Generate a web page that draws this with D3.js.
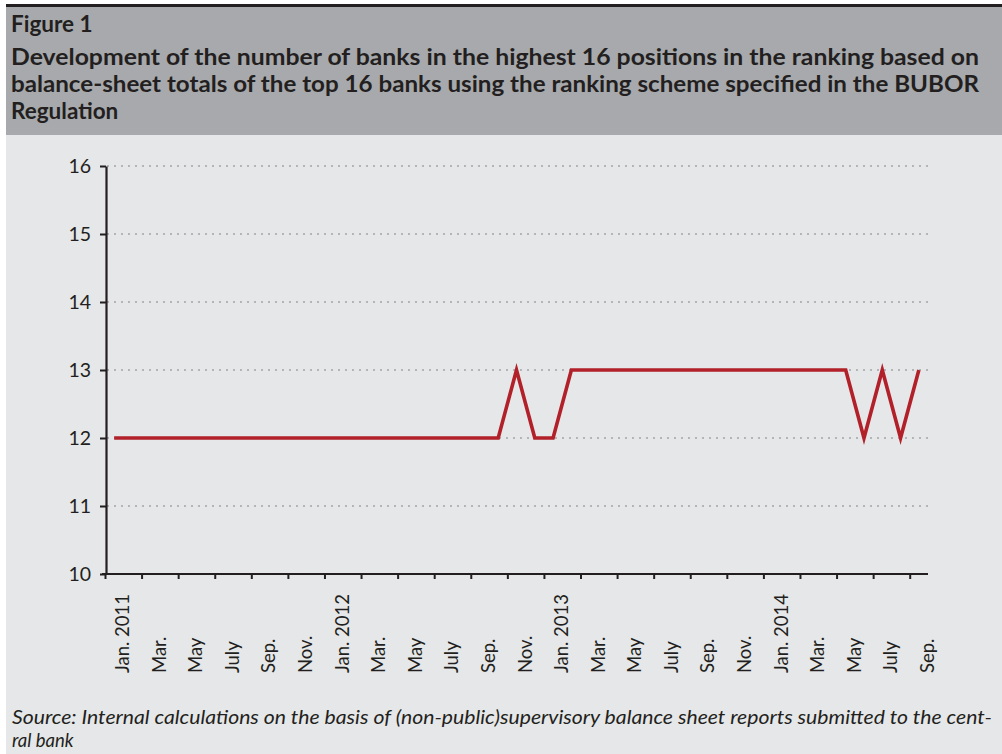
<!DOCTYPE html>
<html>
<head>
<meta charset="utf-8">
<script src="https://cdn.jsdelivr.net/npm/d3@7"></script>
<style>
  html, body { margin: 0; padding: 0; background: #ffffff; }
  svg { display: block; }
  text { font-family: Lato, "Open Sans", sans-serif; fill: #231f20; }
</style>
</head>
<body>
<svg id="chart" width="1002" height="754"></svg>
<script>
// Monthly observations, Jan. 2011 – Sep. 2014
const months = [
  "2011-01","2011-02","2011-03","2011-04","2011-05","2011-06","2011-07","2011-08","2011-09","2011-10","2011-11","2011-12",
  "2012-01","2012-02","2012-03","2012-04","2012-05","2012-06","2012-07","2012-08","2012-09","2012-10","2012-11","2012-12",
  "2013-01","2013-02","2013-03","2013-04","2013-05","2013-06","2013-07","2013-08","2013-09","2013-10","2013-11","2013-12",
  "2014-01","2014-02","2014-03","2014-04","2014-05","2014-06","2014-07","2014-08","2014-09"
];
const banks = [
  12,12,12,12,12,12,12,12,12,12,12,12,
  12,12,12,12,12,12,12,12,12,12,13,12,
  12,13,13,13,13,13,13,13,13,13,13,13,
  13,13,13,13,13,12,13,12,13
];
// One label every second month
const tickLabels = [
  "Jan. 2011","Mar.","May","July","Sep.","Nov.",
  "Jan. 2012","Mar.","May","July","Sep.","Nov.",
  "Jan. 2013","Mar.","May","July","Sep.","Nov.",
  "Jan. 2014","Mar.","May","July","Sep."
];
const yTicks = [10, 11, 12, 13, 14, 15, 16];
const titleLines = [
  "Development of the number of banks in the highest 16 positions in the ranking based on",
  "balance-sheet totals of the top 16 banks using the ranking scheme specified in the BUBOR",
  "Regulation"
];
const sourceLines = [
  "Source: Internal calculations on the basis of (non-public)supervisory balance sheet reports submitted to the cent-",
  "ral bank"
];

const svg = d3.select("#chart");
const W = 1002, H = 754;

// Panel backgrounds
svg.append("rect").attr("x", 6).attr("y", 7).attr("width", W - 6).attr("height", 128).attr("fill", "#a7a9ac");
svg.append("rect").attr("x", 6).attr("y", 135).attr("width", W - 6).attr("height", H - 135).attr("fill", "#e6e7e8");
svg.append("rect").attr("x", 6).attr("y", 4).attr("width", W - 6).attr("height", 3).attr("fill", "#231f20");

// Heading
svg.append("text").attr("x", 11).attr("y", 32)
  .attr("font-size", 22.5).attr("font-weight", 700).text("Figure 1");
svg.selectAll("text.title").data(titleLines).join("text")
  .attr("class", "title")
  .attr("x", 11).attr("y", (d, i) => 65 + i * 27)
  .attr("font-size", 22.5).attr("font-weight", 700)
  .text(d => d)
  .each(function (d, i) {
    if (i < 2) d3.select(this).attr("textLength", 968).attr("lengthAdjust", "spacingAndGlyphs");
  });

// Footnote
svg.selectAll("text.source").data(sourceLines).join("text")
  .attr("class", "source")
  .attr("x", 12).attr("y", (d, i) => 724 + i * 23)
  .attr("font-size", 18.5).attr("font-style", "italic")
  .text(d => d)
  .each(function (d, i) {
    if (i === 0) d3.select(this).attr("textLength", 980).attr("lengthAdjust", "spacingAndGlyphs");
  });

// Plot area
const plotLeft = 105, plotRight = 928, plotTop = 166, plotBottom = 574;
const x = d3.scaleBand().domain(months).range([plotLeft, plotRight]).padding(0);
const xEdge = d3.scaleLinear().domain([0, months.length]).range([plotLeft, plotRight]);
const y = d3.scaleLinear().domain([10, 16]).range([plotBottom, plotTop]);

// Dotted gridlines
svg.append("g").selectAll("line").data(yTicks.filter(v => v > 10)).join("line")
  .attr("x1", plotLeft + 2).attr("x2", plotRight)
  .attr("y1", d => y(d)).attr("y2", d => y(d))
  .attr("stroke", "#a3a5a8").attr("stroke-width", 1.6)
  .attr("stroke-dasharray", "2,5");

// Y axis
const yAxis = svg.append("g").attr("transform", `translate(${plotLeft + 1},0)`)
  .call(d3.axisLeft(y).tickValues(yTicks).tickSize(6).tickSizeOuter(0).tickFormat(d3.format("d")));
yAxis.select(".domain").attr("stroke", "#231f20").attr("stroke-width", 2.2);
yAxis.selectAll(".tick line").attr("stroke", "#231f20").attr("stroke-width", 2);
yAxis.selectAll(".tick text").attr("x", -15).attr("font-size", 19.5).attr("font-family", "Lato, sans-serif").attr("fill", "#231f20");

// X axis: ticks on month boundaries, every second month
const xTickVals = d3.range(0, months.length, 2);
const xAxis = svg.append("g").attr("transform", `translate(0,${plotBottom})`)
  .call(d3.axisBottom(xEdge).tickValues(xTickVals).tickSize(5).tickSizeOuter(0)
    .tickFormat((d, i) => tickLabels[i]));
xAxis.select(".domain").attr("stroke", "#231f20").attr("stroke-width", 2.2)
  .attr("d", `M${plotLeft - 3},0H${plotRight}`);
xAxis.selectAll(".tick line").attr("stroke", "#231f20").attr("stroke-width", 2);
xAxis.selectAll(".tick text")
  .attr("font-size", 18.5).attr("font-family", "Lato, sans-serif").attr("fill", "#231f20")
  .attr("text-anchor", "start").attr("x", 0).attr("y", 0).attr("dy", "0.36em")
  .attr("transform", "translate(17,99) rotate(-90)");

// Series line
const line = d3.line()
  .x((d, i) => x(months[i]) + x.bandwidth() / 2)
  .y(d => y(d));
svg.append("path").datum(banks)
  .attr("d", line)
  .attr("fill", "none").attr("stroke", "#b2202a").attr("stroke-width", 3.6)
  .attr("stroke-linejoin", "miter");
</script>
</body>
</html>
